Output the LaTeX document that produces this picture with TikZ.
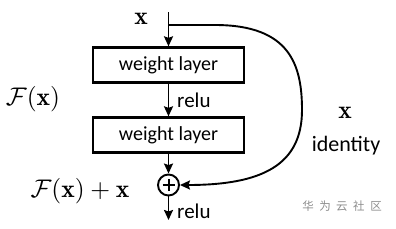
\documentclass[tikz,border=0pt]{standalone}
\usepackage{graphicx}
\usepackage{fontspec}
\setsansfont{Carlito}
\newfontfamily\cjk{Noto Sans CJK SC}
\usetikzlibrary{arrows.meta}
\newcommand\bigmath[1]{\scalebox{2.55}{\fontsize{10}{12}\selectfont$#1$}}
\begin{document}
\begin{tikzpicture}[x=1pt,y=-1pt,
  layerbox/.style={draw,line width=2.3pt,minimum width=151pt,minimum height=35pt,inner sep=0pt,font=\sffamily\fontsize{20}{24}\selectfont},
  arr/.style={line width=1.9pt,-{Stealth[length=10pt,width=9pt,inset=1.5pt]}},
  lbl/.style={font=\sffamily\fontsize{21}{24}\selectfont,inner sep=0pt},
  mth/.style={inner sep=0pt}]
\useasboundingbox (0,0) rectangle (396,228);
\node[layerbox] (box1) at (168.5,65) {weight layer};
\node[layerbox] (box2) at (168.5,135) {weight layer};
\node[circle,draw,line width=1.9pt,minimum size=21pt,inner sep=0pt,
  path picture={\draw[line width=2pt] ([xshift=-6pt]path picture bounding box.center) -- ([xshift=6pt]path picture bounding box.center);
                \draw[line width=2pt] ([yshift=-6pt]path picture bounding box.center) -- ([yshift=6pt]path picture bounding box.center);}] (plus) at (168.5,185) {};
\coordinate (top) at (168.5,12);
\coordinate (branch) at (168.5,25);
\coordinate (bot) at (168.5,220);
\draw[arr] (top) -- (box1);
\draw[arr] (box1) -- (box2);
\draw[arr] (box2) -- (plus);
\draw[arr] (plus) -- (bot);
\draw[arr] (branch) -- (215,25) .. controls (290,25) and (302,65) .. (302,110)
  .. controls (302,165) and (262,185) .. (plus.east);
\node[lbl,anchor=west] (relu1) at (177,100) {relu};
\node[lbl,anchor=west] (relu2) at (177,211) {relu};
\node[mth] (xin) at (141,19) {\bigmath{\mathbf{x}}};
\node[mth] (fx) at (33,99) {\bigmath{\mathcal{F}(\mathbf{x})}};
\node[mth] (fxx) at (80,191) {\bigmath{\mathcal{F}(\mathbf{x})+\mathbf{x}}};
\node[mth] (xid) at (345,113) {\bigmath{\mathbf{x}}};
\node[lbl,font=\sffamily\fontsize{22}{24}\selectfont] (ident) at (346,146) {identity};
\node[inner sep=0pt,text=black!45,font=\cjk\fontsize{11.5}{13}\selectfont] (wm) at (342,206) {华\hspace{5.5pt}为\hspace{5.5pt}云\hspace{5.5pt}社\hspace{5.5pt}区};
\end{tikzpicture}
\end{document}
